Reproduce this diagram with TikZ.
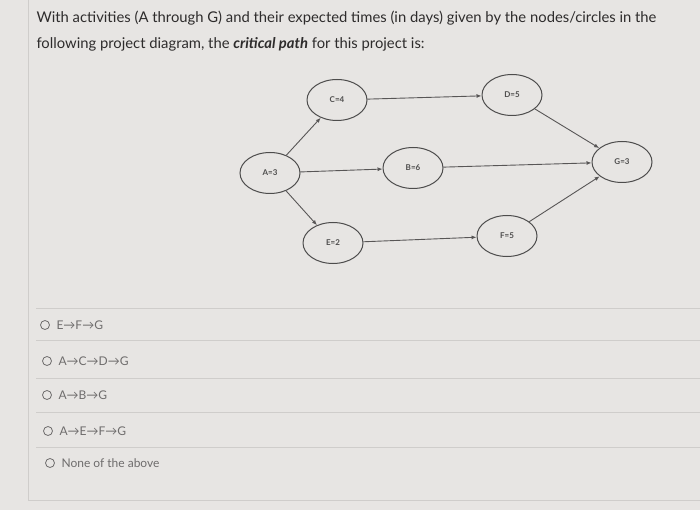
\documentclass[tikz,border=0pt]{standalone}
\usepackage{fontspec}
\setmainfont{Lato}
\usetikzlibrary{shapes.geometric,arrows.meta}
\definecolor{bg}{HTML}{E7E5E3}
\definecolor{txt}{HTML}{2E2C2C}
\definecolor{opt}{HTML}{6E6C6C}
\definecolor{sep}{HTML}{CFCDCB}
\tikzset{
  ev/.style={draw=txt!85,ellipse,line width=1pt,minimum width=60pt,minimum height=41pt,inner sep=0pt,font=\fontsize{8}{9}\selectfont\bfseries,text=txt!85},
  con/.style={draw=txt!80,line width=0.9pt,-{Latex[length=5pt,width=4pt]}},
  optt/.style={anchor=west,font=\fontsize{12}{14}\selectfont,text=opt},
  radio/.style={draw=opt,circle,line width=0.8pt,minimum size=9pt,inner sep=0pt},
  sepl/.style={draw=sep,line width=0.8pt}
}
\begin{document}
\begin{tikzpicture}[x=1pt,y=-1pt]
\useasboundingbox (0,0) rectangle (700,510);
\fill[bg] (0,0) rectangle (700,510);
\draw[sep,line width=1pt] (28,0) -- (28,500) -- (700,500);
\node[anchor=west,font=\fontsize{14.8}{17}\selectfont,text=txt] (q1) at (33,18) {With activities (A through G) and their expected times (in days) given by the nodes/circles in the};
\node[anchor=west,font=\fontsize{14.8}{17}\selectfont,text=txt] (q2) at (33,44) {following project diagram, the \textbf{\textit{critical path}} for this project is:};
\node[ev] (A) at (270,173) {A=3};
\node[ev] (C) at (337,100) {C=4};
\node[ev] (D) at (512,95) {D=5};
\node[ev] (B) at (413,168) {B=6};
\node[ev] (G) at (622,162) {G=3};
\node[ev] (E) at (333,243) {E=2};
\node[ev] (F) at (507,236) {F=5};
\draw[con] (A) -- (C);
\draw[con] (C) -- (D);
\draw[con] (A) -- (B);
\draw[con] (B) -- (G);
\draw[con] (A) -- (E);
\draw[con] (E) -- (F);
\draw[con] (D) -- (G);
\draw[con] (F) -- (G);
\foreach \y in {308,340,378,412,447} \draw[sepl] (36,\y) -- (700,\y);
\node[radio] (r1) at (45,325) {}; \node[optt] (o1) at (53,325) {E→F→G};
\node[radio] (r2) at (47,361) {}; \node[optt] (o2) at (55,361) {A→C→D→G};
\node[radio] (r3) at (47,395) {}; \node[optt] (o3) at (55,395) {A→B→G};
\node[radio] (r4) at (48,431) {}; \node[optt] (o4) at (56,431) {A→E→F→G};
\node[radio] (r5) at (50,463) {}; \node[optt] (o5) at (58,463) {None of the above};
\end{tikzpicture}
\end{document}
